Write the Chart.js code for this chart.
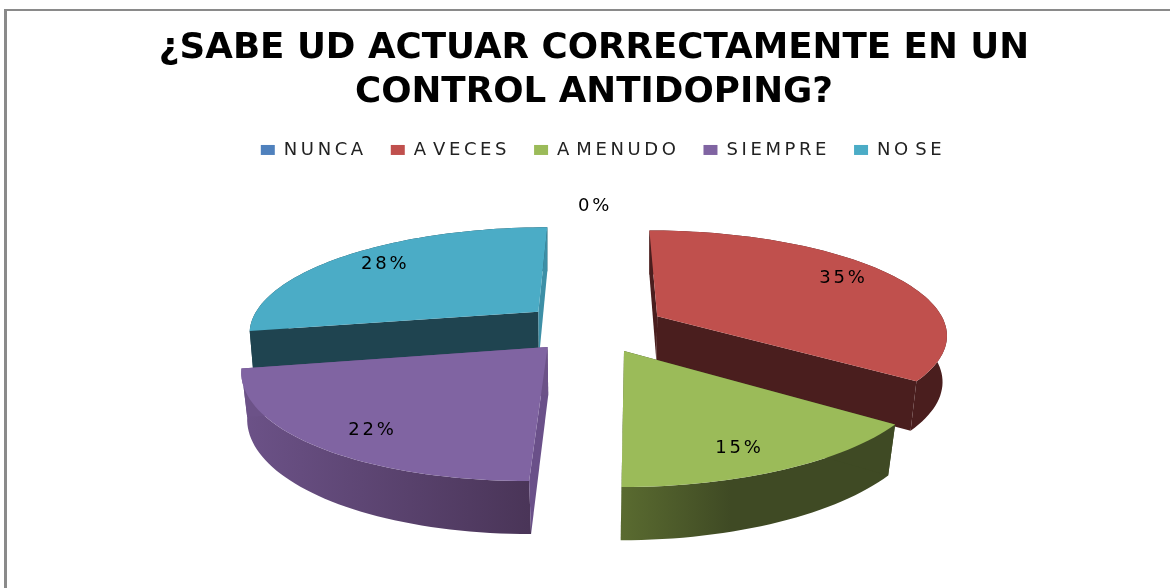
<!DOCTYPE html>
<html>
<head>
<meta charset="utf-8">
<style>
    html, body { margin: 0; background: #fff; overflow: hidden; }
    #frame { position: absolute; left: 4px; top: 9px; right: 0; bottom: 0; border-left: 3px solid #8a8a8a; border-top: 2px solid #8a8a8a; pointer-events: none; }
    canvas { position: absolute; left: 0; top: 0; }
</style>
<script src="https://cdn.jsdelivr.net/npm/chart.js@4"></script>
</head>
<body>
<canvas id="pie" width="1170" height="588"></canvas>
<div id="frame"></div>
<script>
const titleLines = ['¿SABE UD ACTUAR CORRECTAMENTE EN UN', 'CONTROL ANTIDOPING?'];
const categories = ['NUNCA', 'A VECES', 'A MENUDO', 'SIEMPRE', 'NO SE'];
const percents = [0, 35, 15, 22, 28];

const topColors = ['#4f81bd', '#c0504d', '#9bbb59', '#8064a2', '#4bacc6'];
const startWallColors = ['#2f4d71', '#4a1e1e', '#3f4a24', '#6a5089', '#1f4450'];
const endWallColors = ['#2f4d71', '#4a1e1e', '#3f4a24', '#6c5288', '#3d8fa6'];
const rimLeftColors = ['#2f4d71', '#4a1e1e', '#5a6b30', '#6c5288', '#1f4450'];
const rimRightColors = ['#2f4d71', '#4a1e1e', '#3f4a24', '#4a3558', '#1f4450'];
const explodeBy = [0.24, 0.255, 0.24, 0.23, 0.25];
const labelNudge = [[1, -34], [9, -6], [0, 12], [-7, 12], [-7, -4]];

// far slices first so the near ones cover their walls
const drawOrder = [4, 1, 3, 2];

// tilted view of the pie plane
const CX = 594, CY = 328, RX = 290, RY = 104, PERSP = 0.17;
const LABEL_R = 0.75;

function project(u, v) {
    const w = 1 + PERSP * v;
    const y = CY - RY * v / w;
    const lean = (y - CY + 100) / 256;
    return { x: CX + RX * u / w - 12 * lean * lean, y: y };
}

// bottom face of the disc, slightly further from the eye
function lower(p) {
    const squeeze = 1 - 0.03 * (p.y - 231) / 250;
    return { x: CX + (p.x - CX) * squeeze, y: p.y + 44 + (p.y - 231) * 0.036 };
}

function polygon(ctx, points, fill) {
    ctx.beginPath();
    points.forEach((p, i) => i ? ctx.lineTo(p.x, p.y) : ctx.moveTo(p.x, p.y));
    ctx.closePath();
    ctx.fillStyle = fill;
    ctx.fill();
}

function planeOffset(arc, i) {
    const mid = (arc.startAngle + arc.endAngle) / 2;
    return { u: Math.cos(mid) * explodeBy[i], v: -Math.sin(mid) * explodeBy[i] };
}

const pie3d = {
    id: 'pie3d',
    beforeInit(chart) {
        // legend text is spaced out, the title is not
        const legend = chart.legend;
        const fit = legend.fit, draw = legend.draw;
        const spaced = (ctx, on) => {
            ctx.letterSpacing = on ? '3.6px' : '0px';
            ctx.wordSpacing = on ? '-6px' : '0px';
        };
        legend.fit = function () { spaced(chart.ctx, true); fit.call(this); spaced(chart.ctx, false); };
        legend.draw = function () {
            chart.ctx.save();
            chart.ctx.translate(9, 0);
            spaced(chart.ctx, true);
            draw.call(this);
            chart.ctx.restore();
        };
    },
    beforeDatasetsDraw(chart) {
        const ctx = chart.ctx;
        const arcs = chart.getDatasetMeta(0).data;

        drawOrder.forEach(i => {
            const arc = arcs[i];
            const off = planeOffset(arc, i);
            const rim = [];
            const steps = Math.ceil((arc.endAngle - arc.startAngle) / 0.03);
            for (let s = 0; s <= steps; s++) {
                const a = arc.startAngle + (arc.endAngle - arc.startAngle) * s / steps;
                rim.push(project(Math.cos(a) + off.u, -Math.sin(a) + off.v));
            }
            const apex = project(off.u, off.v);
            const first = rim[0], last = rim[rim.length - 1];

            const xs = rim.map(p => p.x);
            const shade = ctx.createLinearGradient(Math.min(...xs), 0, Math.max(...xs), 0);
            shade.addColorStop(0, rimLeftColors[i]);
            shade.addColorStop(i === 2 ? 0.4 : 1, rimRightColors[i]);
            shade.addColorStop(1, rimRightColors[i]);
            polygon(ctx, rim.concat(rim.map(lower).reverse()), shade);

            polygon(ctx, [apex, first, lower(first), lower(apex)], startWallColors[i]);
            polygon(ctx, [apex, last, lower(last), lower(apex)], endWallColors[i]);

            polygon(ctx, [apex].concat(rim), topColors[i]);
        });

        // percentage labels
        ctx.save();
        ctx.font = '18px "DejaVu Sans"';
        ctx.letterSpacing = '2.8px';
        ctx.fillStyle = '#000';
        ctx.textAlign = 'center';
        ctx.textBaseline = 'middle';
        arcs.forEach((arc, i) => {
            const mid = (arc.startAngle + arc.endAngle) / 2;
            const off = planeOffset(arc, i);
            const p = project(Math.cos(mid) * LABEL_R + off.u, -Math.sin(mid) * LABEL_R + off.v);
            ctx.fillText(percents[i] + '%', p.x + labelNudge[i][0], p.y + labelNudge[i][1]);
        });
        ctx.restore();
        return false;
    }
};

new Chart(document.getElementById('pie'), {
    type: 'pie',
    data: {
        labels: categories,
        datasets: [{ data: percents, backgroundColor: topColors, borderWidth: 0 }]
    },
    options: {
        responsive: false,
        animation: false,
        rotation: 0,
        layout: { padding: { left: 18 } },
        plugins: {
            tooltip: { enabled: false },
            title: {
                display: true,
                text: titleLines,
                color: '#000',
                font: { family: '"DejaVu Sans"', size: 35.7, weight: 'bold', lineHeight: 1.232 },
                padding: { top: 27, bottom: 2 }
            },
            legend: {
                position: 'top',
                labels: {
                    color: '#222',
                    boxWidth: 14,
                    boxHeight: 10,
                    padding: 24,
                    font: { family: '"DejaVu Sans"', size: 18 }
                }
            }
        }
    },
    plugins: [pie3d]
});
</script>
</body>
</html>
